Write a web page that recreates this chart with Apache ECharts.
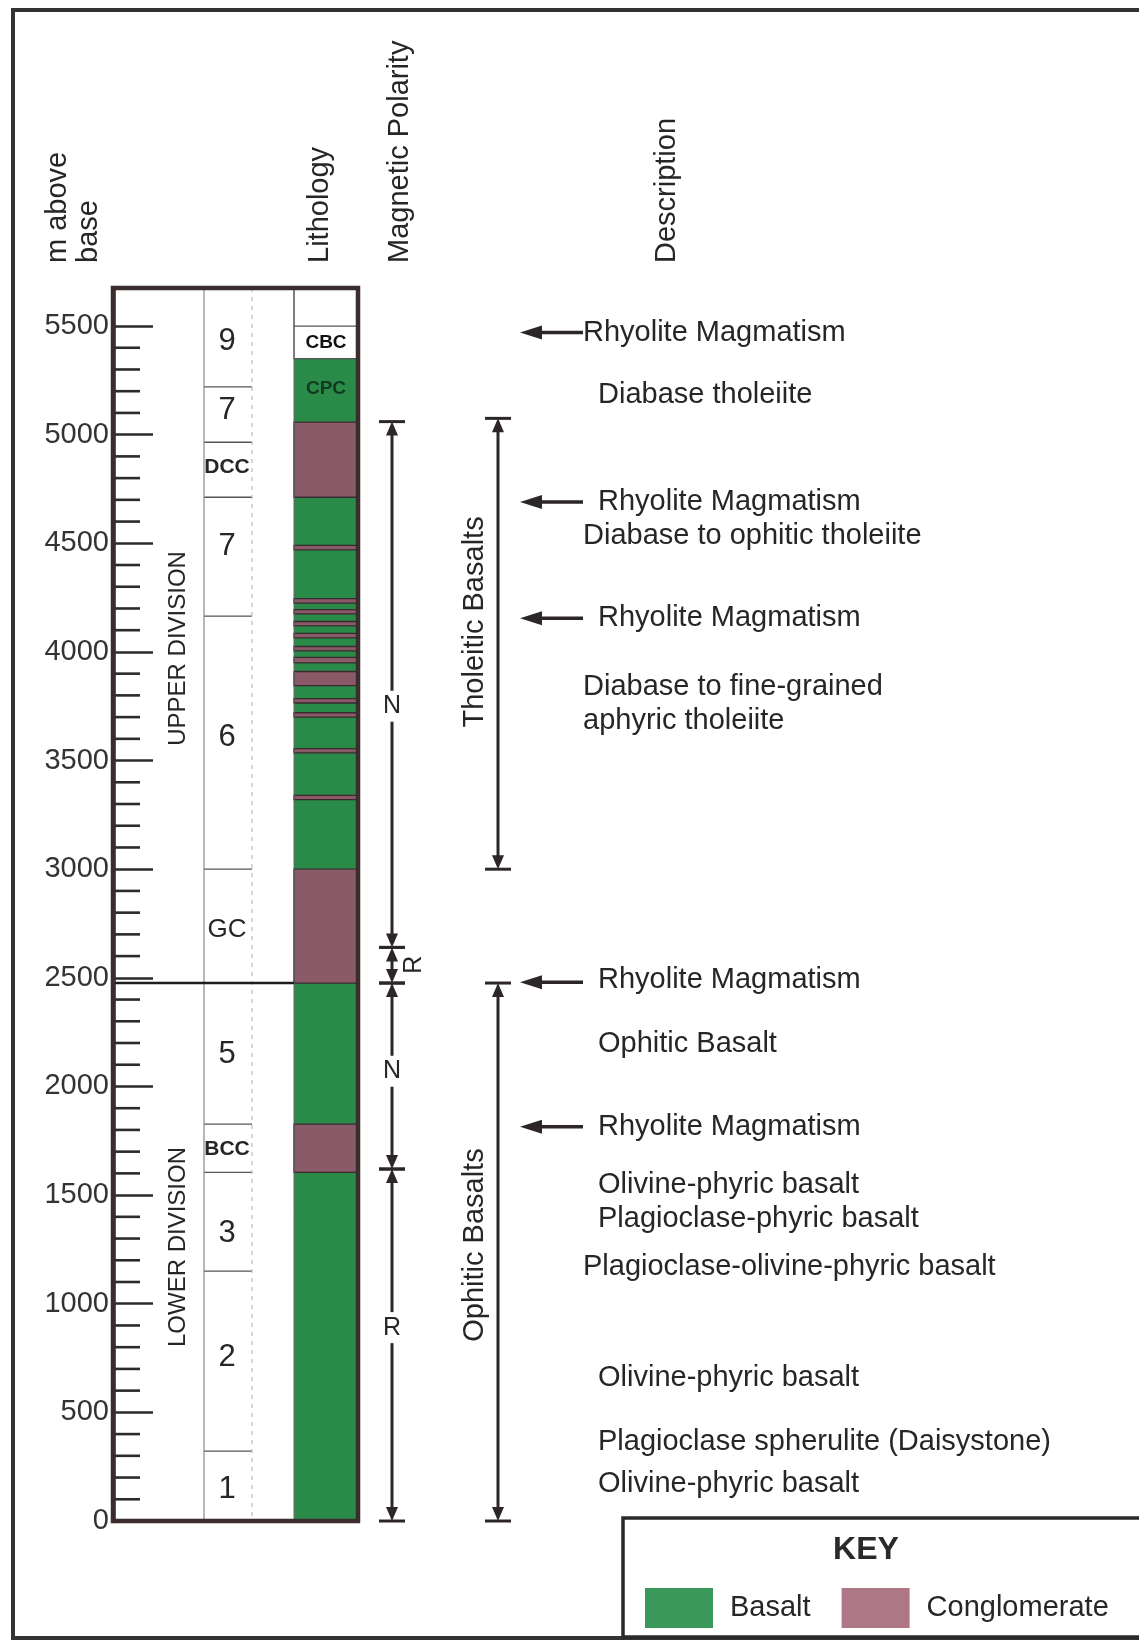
<!DOCTYPE html>
<html><head><meta charset="utf-8">
<script src="https://cdn.jsdelivr.net/npm/echarts@6/dist/echarts.min.js"></script>
<style>html,body{margin:0;padding:0;background:#fff}#c{width:1139px;height:1640px}</style>
</head><body><div id="c"></div>
<script>
// ---------------- DATA (metres above base) ----------------
const minorTicks = [100,200,300,400,600,700,800,900,1100,1200,1300,1400,1600,1700,1800,1900,
  2100,2200,2300,2400,2600,2700,2800,2900,3100,3200,3300,3400,3600,3700,3800,3900,
  4100,4200,4300,4400,4600,4700,4800,4900,5100,5200,5300,5400];

const unitNames   = ['1','2','3','BCC','5','GC','6','7','DCC','7','9'];
const unitBase    = [0, 322, 1150, 1605, 1827, 2476, 3000, 4165, 4712, 4965, 5220];
const unitTop     = [322, 1150, 1605, 1827, 2476, 3000, 4165, 4712, 4965, 5220, 5675];
const unitLabelAt = [145, 755, 1325, 1709, 2149, 2720, 3607, 4487, 4848, 5113, 5430];

const divisionNames   = ['LOWER DIVISION', 'UPPER DIVISION'];
const divisionBase    = [0, 2476];
const divisionTop     = [2476, 5675];
const divisionLabelAt = [1261, 4016];

const basaltBase = [0, 1827, 3000, 5058];
const basaltTop  = [1605, 2476, 4712, 5350];
const conglomerateBase = [1605, 2476, 4712, 3320, 3535, 3700, 3765, 3845, 3950, 4005, 4065, 4120, 4175, 4225, 4470];
const conglomerateTop  = [1827, 3000, 5058, 3340, 3555, 3720, 3785, 3910, 3975, 4025, 4085, 4140, 4195, 4245, 4490];
const blankBase = [5350, 5500];
const blankTop  = [5500, 5675];
const lithoLabelNames = ['CBC', 'CPC'];
const lithoLabelAt    = [5425, 5210];

const polarityNames = ['R', 'N', 'R', 'N'];
const polarityBase  = [0, 1620, 2476, 2640];
const polarityTop   = [1620, 2476, 2640, 5060];
const polarityLabelAt = [890, 2070, 2560, 3750];

const suiteNames   = ['Ophitic Basalts', 'Tholeitic Basalts'];
const suiteBase    = [0, 3000];
const suiteTop     = [2476, 5075];
const suiteLabelAt = [1270, 4138];

const rhyoliteAt = [5470, 4690, 4155, 2480, 1815];

const descTexts = ['Rhyolite Magmatism','Diabase tholeiite','Rhyolite Magmatism','Diabase to ophitic tholeiite',
  'Rhyolite Magmatism','Diabase to fine-grained','aphyric tholeiite','Rhyolite Magmatism','Ophitic Basalt',
  'Rhyolite Magmatism','Olivine-phyric basalt','Plagioclase-phyric basalt','Plagioclase-olivine-phyric basalt',
  'Olivine-phyric basalt','Plagioclase spherulite (Daisystone)','Olivine-phyric basalt'];
const descAt = [5467, 5182, 4689, 4533, 4156, 3838, 3682, 2490, 2195, 1813, 1546, 1390, 1169, 658, 364, 170];

// ---------------- LAYOUT / STYLE ----------------
const descOutdent = [1,0,0,1,0,1,1,0,0,0,0,0,1,0,0,0];
const FONT = "'Liberation Sans', Arial, Helvetica, sans-serif";
const TXT = '#262626';
const LINE = '#2c2626';
const GREEN = '#2a8a48', MAUVE = '#8a5a69';
const AX = 113, UNIT_L = 204, UNIT_R = 252, LITH_L = 294, COL_R = 358;
const POL_X = 392, SUITE_X = 498, ARR_X0 = 520, ARR_X1 = 583, DESC_X = [598, 583];

const chart = echarts.init(document.getElementById('c'));
const Y = (api, v) => api.coord([0, v])[1];
const rows = (a, b) => a.map((v, i) => [0, v, b ? b[i] : v]);

function layerSeries(name, base, top, color, stroke) {
  return {
    name, type: 'custom', coordinateSystem: 'cartesian2d', itemStyle: { color },
    data: rows(base, top), silent: true,
    renderItem: (p, api) => {
      const y0 = Y(api, api.value(1)), y1 = Y(api, api.value(2));
      return { type: 'rect', shape: { x: LITH_L, y: y1, width: COL_R - LITH_L, height: y0 - y1 },
        style: { fill: color, stroke: stroke, lineWidth: stroke ? 1.3 : 0 } };
    }
  };
}

function bracket(x, yb, yt, cap) {
  const h = 13, w = 6;
  return [
    { type: 'line', shape: { x1: x, y1: yt + h, x2: x, y2: yb - h }, style: { stroke: LINE, lineWidth: 3 } },
    { type: 'polygon', shape: { points: [[x, yt], [x - w, yt + h + 1], [x + w, yt + h + 1]] }, style: { fill: LINE } },
    { type: 'polygon', shape: { points: [[x, yb], [x - w, yb - h - 1], [x + w, yb - h - 1]] }, style: { fill: LINE } },
    { type: 'line', shape: { x1: x - cap / 2, y1: yt, x2: x + cap / 2, y2: yt }, style: { stroke: LINE, lineWidth: 3 } },
    { type: 'line', shape: { x1: x - cap / 2, y1: yb, x2: x + cap / 2, y2: yb }, style: { stroke: LINE, lineWidth: 3 } }
  ];
}

const series = [
  layerSeries('Basalt', basaltBase, basaltTop, GREEN, null),
  layerSeries('Conglomerate', conglomerateBase, conglomerateTop, MAUVE, '#3a2a30'),
  {
    name: 'blank', type: 'custom', data: rows(blankBase, blankTop), silent: true,
    renderItem: (p, api) => {
      const y0 = Y(api, api.value(1)), y1 = Y(api, api.value(2));
      return { type: 'rect', shape: { x: LITH_L, y: y1, width: COL_R - LITH_L, height: y0 - y1 },
        style: { fill: '#fff', stroke: '#555', lineWidth: 1.2 } };
    }
  },
  {
    name: 'lithoLabels', type: 'custom', data: rows(lithoLabelAt), silent: true,
    renderItem: (p, api) => ({ type: 'text', x: (LITH_L + COL_R) / 2, y: Y(api, api.value(1)),
      style: { text: lithoLabelNames[p.dataIndex], font: 'bold 19px ' + FONT,
        fill: p.dataIndex === 0 ? '#111' : '#0f3a22', textAlign: 'center', textVerticalAlign: 'middle' } })
  },
  {
    name: 'units', type: 'custom', data: rows(unitBase, unitTop), silent: true,
    renderItem: (p, api) => {
      const i = p.dataIndex, y0 = Y(api, api.value(1));
      const n = unitNames[i];
      const font = n.length === 3 ? 'bold 21px ' + FONT : (n.length === 2 ? '26px ' + FONT : '31px ' + FONT);
      const ch = [{ type: 'text', x: (UNIT_L + UNIT_R) / 2 - 1, y: Y(api, unitLabelAt[i]),
        style: { text: n, font, fill: TXT, textAlign: 'center', textVerticalAlign: 'middle' } }];
      if (i > 0) ch.push({ type: 'line', shape: { x1: UNIT_L, y1: y0, x2: UNIT_R, y2: y0 }, style: { stroke: '#555', lineWidth: 1.3 } });
      return { type: 'group', children: ch };
    }
  },
  {
    name: 'columnsLines', type: 'custom', data: [[0, 0, 5675]], silent: true,
    renderItem: (p, api) => {
      const y0 = Y(api, api.value(1)), y1 = Y(api, api.value(2));
      return { type: 'group', children: [
        { type: 'line', shape: { x1: UNIT_L, y1: y1, x2: UNIT_L, y2: y0 }, style: { stroke: '#888', lineWidth: 1.2 } },
        { type: 'line', shape: { x1: UNIT_R, y1: y1, x2: UNIT_R, y2: y0 }, style: { stroke: '#bbb', lineWidth: 1.2, lineDash: [4, 5] } },
        { type: 'line', shape: { x1: LITH_L, y1: y1, x2: LITH_L, y2: y0 }, style: { stroke: '#666', lineWidth: 1 } }
      ] };
    }
  },
  {
    name: 'divisions', type: 'custom', data: rows(divisionBase, divisionTop), silent: true,
    renderItem: (p, api) => {
      const i = p.dataIndex, y0 = Y(api, api.value(1));
      const ch = [{ type: 'text', x: 178, y: Y(api, divisionLabelAt[i]), rotation: Math.PI / 2,
        style: { x: 0, y: 0, text: divisionNames[i], font: '24px ' + FONT, fill: TXT, textAlign: 'center', textVerticalAlign: 'middle' } }];
      if (i > 0) ch.push({ type: 'line', shape: { x1: AX, y1: y0, x2: LITH_L, y2: y0 }, style: { stroke: '#1e1e1e', lineWidth: 2.5 } });
      return { type: 'group', children: ch };
    }
  },
  {
    name: 'minorTicks', type: 'custom', data: rows(minorTicks), silent: true,
    renderItem: (p, api) => {
      const y = Y(api, api.value(1));
      return { type: 'line', shape: { x1: AX, y1: y, x2: AX + 27, y2: y }, style: { stroke: '#2b2b2b', lineWidth: 2.6 } };
    }
  },
  {
    name: 'frame', type: 'custom', data: [[0, 0, 5675]], silent: true, z: 5,
    renderItem: (p, api) => {
      const y0 = Y(api, api.value(1)), y1 = Y(api, api.value(2));
      return { type: 'rect', shape: { x: AX, y: y1, width: COL_R - AX, height: y0 - y1 },
        style: { fill: 'none', stroke: '#3b2d2d', lineWidth: 4.5 } };
    }
  },
  {
    name: 'polarity', type: 'custom', data: rows(polarityBase, polarityTop), silent: true,
    renderItem: (p, api) => {
      const i = p.dataIndex, yb = Y(api, api.value(1)), yt = Y(api, api.value(2));
      const ch = bracket(POL_X, yb, yt, 26);
      const ly = Y(api, polarityLabelAt[i]);
      if (yb - yt > 60) {
        ch.push({ type: 'text', x: POL_X, y: ly, style: { text: polarityNames[i], font: '25px ' + FONT, fill: TXT,
          textAlign: 'center', textVerticalAlign: 'middle', backgroundColor: '#fff', padding: [3, 2] } });
      } else {
        ch.push({ type: 'text', x: POL_X + 22, y: ly, rotation: Math.PI / 2, style: { x: 0, y: 0, text: polarityNames[i],
          font: '25px ' + FONT, fill: TXT, textAlign: 'center', textVerticalAlign: 'middle' } });
      }
      return { type: 'group', children: ch };
    }
  },
  {
    name: 'suites', type: 'custom', data: rows(suiteBase, suiteTop), silent: true,
    renderItem: (p, api) => {
      const i = p.dataIndex, yb = Y(api, api.value(1)), yt = Y(api, api.value(2));
      const ch = bracket(SUITE_X, yb, yt, 26);
      ch.push({ type: 'text', x: SUITE_X - 23, y: Y(api, suiteLabelAt[i]), rotation: Math.PI / 2, style: { x: 0, y: 0,
        text: suiteNames[i], font: '29px ' + FONT, fill: TXT, textAlign: 'center', textVerticalAlign: 'middle' } });
      return { type: 'group', children: ch };
    }
  },
  {
    name: 'rhyolite', type: 'custom', data: rows(rhyoliteAt), silent: true,
    renderItem: (p, api) => {
      const y = Y(api, api.value(1));
      return { type: 'group', children: [
        { type: 'line', shape: { x1: ARR_X0 + 14, y1: y, x2: ARR_X1, y2: y }, style: { stroke: LINE, lineWidth: 3.5 } },
        { type: 'polygon', shape: { points: [[ARR_X0, y], [ARR_X0 + 22, y - 7], [ARR_X0 + 22, y + 7]] }, style: { fill: LINE } }
      ] };
    }
  },
  {
    name: 'descriptions', type: 'custom', data: rows(descAt), silent: true,
    renderItem: (p, api) => ({ type: 'text', x: DESC_X[descOutdent[p.dataIndex]], y: Y(api, api.value(1)),
      style: { text: descTexts[p.dataIndex], font: '29px ' + FONT, fill: TXT, textAlign: 'left', textVerticalAlign: 'middle' } })
  }
];

const hdr = (text, x, y) => ({ type: 'text', x, y, rotation: Math.PI / 2,
  style: { text, font: '29px ' + FONT, fill: TXT, textAlign: 'left', textVerticalAlign: 'middle' } });

chart.setOption({
  animation: false,
  backgroundColor: '#fff',
  grid: { left: AX, top: 288, right: 0, bottom: 119, containLabel: false },
  xAxis: { type: 'value', min: 0, max: 1026, show: false },
  yAxis: {
    type: 'value', min: 0, max: 5675, interval: 500,
    axisLine: { show: true, lineStyle: { color: '#3b2d2d', width: 4.5 } },
    axisTick: { show: true, inside: true, length: 40, lineStyle: { color: '#2b2b2b', width: 2.6 } },
    minorTick: { show: false },
    splitLine: { show: false },
    axisLabel: { fontSize: 29, fontFamily: FONT, color: '#333', margin: 4, showMaxLabel: false,
      formatter: v => String(v) }
  },
  legend: {
    left: 645, top: 1588, padding: 0, itemWidth: 68, itemHeight: 40, itemGap: 31, selectedMode: false,
    icon: 'rect',
    data: [{ name: 'Basalt', itemStyle: { color: '#3a985a' } }, { name: 'Conglomerate', itemStyle: { color: '#ad7785' } }],
    textStyle: { fontSize: 29, fontFamily: FONT, color: TXT, padding: [4, 0, 0, 12] }
  },
  graphic: [
    { type: 'rect', shape: { x: 13, y: 10, width: 1200, height: 1628 }, style: { fill: 'none', stroke: '#333', lineWidth: 4 }, z: -1 },
    { type: 'rect', shape: { x: 623, y: 1518, width: 600, height: 119 }, style: { fill: '#fff', stroke: '#2a2a2a', lineWidth: 3.5 }, z: -1 },
    { type: 'text', x: 866, y: 1550, style: { text: 'KEY', font: 'bold 32px ' + FONT, fill: '#2a2a2a', textAlign: 'center', textVerticalAlign: 'middle' } },
    hdr('m above', 58, 263),
    hdr('base', 89, 263),
    hdr('Lithology', 320, 263),
    hdr('Magnetic Polarity', 400, 263),
    hdr('Description', 667, 263)
  ],
  series
});
</script></body></html>
